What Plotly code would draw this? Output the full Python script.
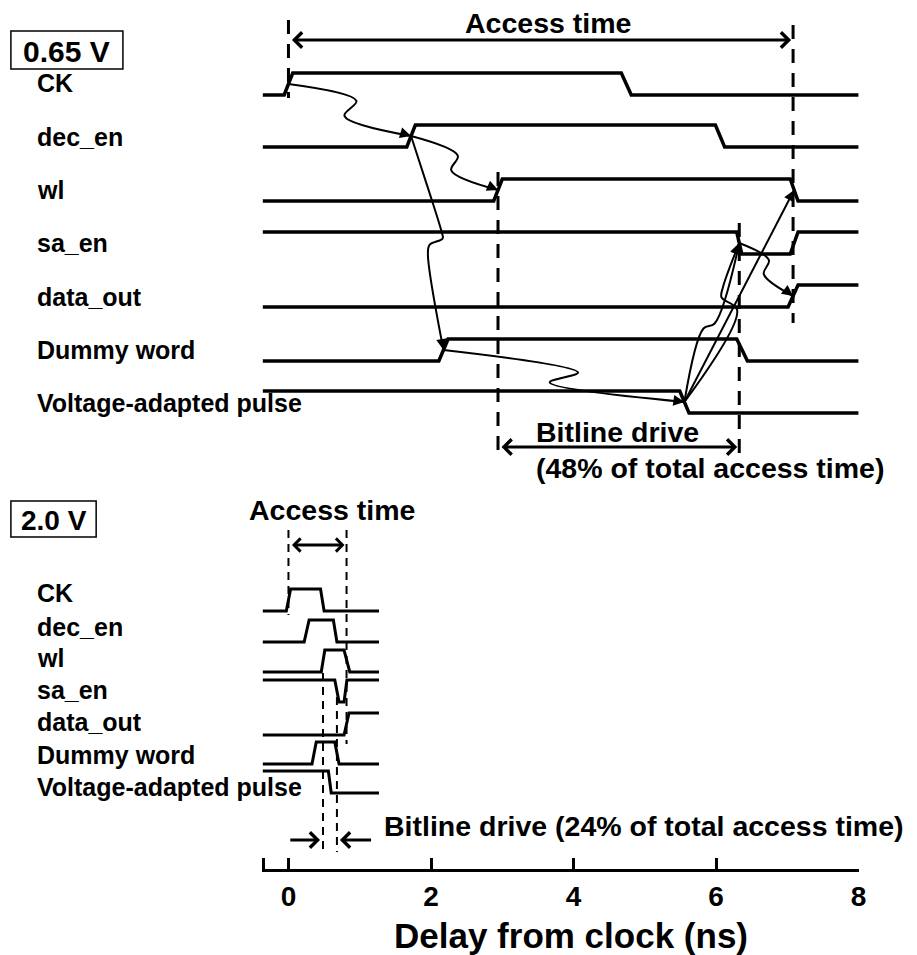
import math
import plotly.graph_objects as go

FONT = "Liberation Sans, Arial, sans-serif"
W, H = 917, 955

# ---------------------------------------------------------------
# Signal data (times in ns)
# ---------------------------------------------------------------
SIGNALS = ["CK", "dec_en", "wl", "sa_en", "data_out", "Dummy word",
           "Voltage-adapted pulse"]
IDLE_LEVEL = [0, 0, 0, 1, 0, 0, 1]          # level before the access

# 0.65 V supply: (start, end) of every transition
CK_065 = [(-0.06, 0.06), (4.67, 4.81)]
DEC_EN_065 = [(1.66, 1.78), (5.99, 6.12)]
WL_065 = [(2.88, 3.00), (7.04, 7.15)]
SA_EN_065 = [(6.29, 6.36), (7.04, 7.15)]
DATA_OUT_065 = [(7.01, 7.15)]
DUMMY_065 = [(2.11, 2.24), (6.29, 6.44)]
PULSE_065 = [(5.49, 5.62)]
END_065 = 8.0

# 2.0 V supply
CK_200 = [(-0.03, 0.03), (0.45, 0.50)]
DEC_EN_200 = [(0.22, 0.29), (0.63, 0.68)]
WL_200 = [(0.46, 0.51), (0.78, 0.86)]
SA_EN_200 = [(0.65, 0.71), (0.78, 0.82)]
DATA_OUT_200 = [(0.78, 0.85)]
DUMMY_200 = [(0.33, 0.39), (0.65, 0.71)]
PULSE_200 = [(0.56, 0.60)]
END_200 = 1.27

T_START = -0.36
AXIS_START = -0.355
TICKS = [0, 2, 4, 6, 8]

EDGES_065 = [CK_065, DEC_EN_065, WL_065, SA_EN_065, DATA_OUT_065, DUMMY_065, PULSE_065]
EDGES_200 = [CK_200, DEC_EN_200, WL_200, SA_EN_200, DATA_OUT_200, DUMMY_200, PULSE_200]

# ---------------------------------------------------------------
# Layout geometry (pixel rows, y grows downward)
# ---------------------------------------------------------------
PX0 = 291.0          # pixel column of t = 0
K = 71.9             # px per ns
T_MIN, T_MAX = -0.375, 8.0
X_LEFT_PX = PX0 + T_MIN * K
X_RIGHT_PX = PX0 + T_MAX * K
AXIS_Y = 870

BASE_065 = [95, 147, 201, 254, 307, 361, 413]      # low-level row of each trace
AMP_065 = 22
LABEL_Y_065 = [83, 137, 190, 243, 297, 350, 403]

BASE_200 = [611, 642, 672, 702, 735, 764, 793]
AMP_200 = 22
LABEL_Y_200 = [593, 627, 658, 690, 722, 755, 787]


def py(ypx):
    return 1 - ypx / H


def px(xpx):
    return xpx / W


def level_y(base, lvl, amp):
    return base - amp * lvl


def waveform(init, edges, t0, t1, base, amp):
    lvl = init
    xs, ys = [t0], [level_y(base, lvl, amp)]
    for a, b in edges:
        xs += [a, b]
        ys += [level_y(base, lvl, amp), level_y(base, 1 - lvl, amp)]
        lvl = 1 - lvl
    xs.append(t1)
    ys.append(level_y(base, lvl, amp))
    return xs, ys


def edge_mid(edges, i, base, amp):
    a, b = edges[i]
    return (a + b) / 2, base - amp / 2


fig = go.Figure()
shapes, annotations = [], []


def add_waves(edge_sets, bases, amp, t_end, width):
    for init, edges, base in zip(IDLE_LEVEL, edge_sets, bases):
        xs, ys = waveform(init, edges, T_START, t_end, base, amp)
        fig.add_trace(go.Scatter(x=xs, y=ys, mode="lines",
                                 line=dict(color="black", width=width),
                                 hoverinfo="skip"))


add_waves(EDGES_065, BASE_065, AMP_065, END_065, 3.5)
add_waves(EDGES_200, BASE_200, AMP_200, END_200, 3.0)


def label(text, xpx, ypx, size, anchor="left"):
    annotations.append(dict(text="<b>%s</b>" % text, x=px(xpx), y=py(ypx),
                            xref="paper", yref="paper", xanchor=anchor,
                            yanchor="middle", showarrow=False,
                            font=dict(family=FONT, size=size, color="black")))


for name, yl in zip(SIGNALS, LABEL_Y_065):
    label(name, 35, yl, 25)
for name, yl in zip(SIGNALS, LABEL_Y_200):
    label(name, 35, yl, 25)

# supply boxes
for text, (x0, y0, x1, y1), size in [("0.65 V", (11, 31, 124, 69), 30),
                                     ("2.0 V", (11, 501, 97, 537), 28)]:
    shapes.append(dict(type="rect", xref="paper", yref="paper",
                       x0=px(x0), x1=px(x1), y0=py(y0), y1=py(y1),
                       line=dict(color="black", width=1.5)))
    label(text, (x0 + x1) / 2, (y0 + y1) / 2 + 1, size, anchor="center")


def vdash(t, y0, y1, width, dash):
    shapes.append(dict(type="line", xref="x", yref="y", x0=t, x1=t, y0=y0, y1=y1,
                       line=dict(color="black", width=width, dash=dash)))


def double_arrow(t0, t1, ypx, width, size):
    annotations.append(dict(text="", x=t1, y=ypx, ax=t0, ay=ypx,
                            xref="x", yref="y", axref="x", ayref="y",
                            showarrow=True, arrowside="end+start",
                            arrowhead=4, startarrowhead=4,
                            arrowsize=size, startarrowsize=size,
                            arrowwidth=width, arrowcolor="black",
                            standoff=2, startstandoff=2))


def single_arrow(t_tail, t_tip, ypx, width, size):
    annotations.append(dict(text="", x=t_tip, y=ypx, ax=t_tail, ay=ypx,
                            xref="x", yref="y", axref="x", ayref="y",
                            showarrow=True, arrowhead=4, arrowsize=size,
                            arrowwidth=width, arrowcolor="black", standoff=3))


# ---------------- 0.65 V markers ----------------
ck_rise = edge_mid(CK_065, 0, BASE_065[0], AMP_065)[0]
wl_rise = edge_mid(WL_065, 0, BASE_065[2], AMP_065)[0]
sa_fall = edge_mid(SA_EN_065, 0, BASE_065[3], AMP_065)[0]
dout_rise = edge_mid(DATA_OUT_065, 0, BASE_065[4], AMP_065)[0]

vdash(ck_rise, 20, 98, 3, "14px,10px")
vdash(dout_rise, 25, 323, 3, "14px,10px")
vdash(wl_rise, 172, 458, 3, "14px,10px")
vdash(sa_fall, 223, 453, 3, "14px,10px")

double_arrow(ck_rise, dout_rise, 40, 3, 1.0)
double_arrow(wl_rise, sa_fall, 447, 3, 1.0)

label("Access time", 553, 23, 28.5, anchor="center")
label("Bitline drive", 539, 432, 28.5)
label("(48% of total access time)", 539, 468, 28.5)


# causal arrows between edges (built in pixel space, then mapped to ns)
def to_px(pt):
    return (pt[0] * K, pt[1])


def to_data(p):
    return (p[0] / K, p[1])


def causal(src, dst, kinks):
    p0, p1 = to_px(src), to_px(dst)
    dx, dy = p1[0] - p0[0], p1[1] - p0[1]
    L = math.hypot(dx, dy)
    nx, ny = dy / L, -dx / L
    pts = [p0]
    for s, o in kinks:
        pts.append((p0[0] + s * dx + o * nx, p0[1] + s * dy + o * ny))
    pts.append(p1)
    data = [to_data(p) for p in pts]
    fig.add_trace(go.Scatter(x=[d[0] for d in data], y=[d[1] for d in data],
                             mode="lines", hoverinfo="skip",
                             line=dict(color="black", width=2,
                                       shape="spline" if kinks else "linear")))
    # arrow head on the final approach
    q = pts[-2]
    ux, uy = p1[0] - q[0], p1[1] - q[1]
    ul = math.hypot(ux, uy)
    tail = (p1[0] - 9 * ux / ul, p1[1] - 9 * uy / ul)
    annotations.append(dict(text="", x=dst[0], y=dst[1],
                            ax=tail[0] / K, ay=tail[1],
                            xref="x", yref="y", axref="x", ayref="y",
                            showarrow=True, arrowhead=2, arrowsize=1.1,
                            arrowwidth=2, arrowcolor="black"))


def m(edges, i, row):
    return edge_mid(edges, i, BASE_065[row], AMP_065)


causal(m(CK_065, 0, 0), m(DEC_EN_065, 0, 1), [(0.52, 11), (0.48, -7.5)])
causal(m(DEC_EN_065, 0, 1), m(WL_065, 0, 2), [(0.49, 8), (0.51, -8)])
causal(m(DEC_EN_065, 0, 1), m(DUMMY_065, 0, 5),
       [(0.25, 9), (0.46, 16), (0.49, 16), (0.51, 2), (0.55, -1)])
causal(m(DUMMY_065, 0, 5), m(PULSE_065, 0, 6), [(0.553, 6.4), (0.449, -9.3)])
causal(m(PULSE_065, 0, 6), m(SA_EN_065, 0, 3), [(0.45, 6), (0.5, -3)])
causal(m(PULSE_065, 0, 6), m(SA_EN_065, 0, 3), [(0.62, -20), (0.66, -1), (0.72, 1)])
causal(m(PULSE_065, 0, 6), m(WL_065, 1, 2), [])
causal(m(SA_EN_065, 0, 3), m(DATA_OUT_065, 0, 4), [(0.44, 8.6), (0.52, -5)])

# ---------------- 2.0 V markers ----------------
ck_rise2 = edge_mid(CK_200, 0, BASE_200[0], AMP_200)[0]
wl_rise2 = edge_mid(WL_200, 0, BASE_200[2], AMP_200)[0]
sa_fall2 = edge_mid(SA_EN_200, 0, BASE_200[3], AMP_200)[0]
dout_rise2 = edge_mid(DATA_OUT_200, 0, BASE_200[4], AMP_200)[0]

vdash(ck_rise2, 530, 615, 2, "8px,6px")
vdash(dout_rise2, 530, 744, 2, "8px,6px")
vdash(wl_rise2, 673, 852, 2, "8px,6px")
vdash(sa_fall2, 697, 852, 2, "8px,6px")

double_arrow(ck_rise2, dout_rise2, 545, 3, 0.85)
single_arrow(wl_rise2 - 0.48, wl_rise2, 840, 3, 1.0)
single_arrow(sa_fall2 + 0.50, sa_fall2, 840, 3, 1.0)

label("Access time", 335, 510, 28.5, anchor="center")
label("Bitline drive (24% of total access time)", 385, 826, 28.5)

# axis title
label("Delay from clock (ns)", 576, 935, 35, anchor="center")

fig.update_layout(
    width=W, height=H, margin=dict(l=0, r=0, t=0, b=0),
    paper_bgcolor="white", plot_bgcolor="white", showlegend=False,
    shapes=shapes, annotations=annotations,
    xaxis=dict(domain=[px(X_LEFT_PX), px(X_RIGHT_PX)], range=[T_MIN, T_MAX],
               anchor="free", position=py(AXIS_Y),
               showline=True, linecolor="black", linewidth=3,
               ticks="inside", ticklen=11, tickwidth=3, tickcolor="black",
               tickvals=[AXIS_START] + TICKS,
               ticktext=[""] + ["<b>%d</b>" % t for t in TICKS],
               tickfont=dict(family=FONT, size=28, color="black"),
               ticklabelstandoff=0,
               showgrid=False, zeroline=False, fixedrange=True),
    yaxis=dict(domain=[0, 1], range=[H, 0], visible=False, fixedrange=True),
)

fig.write_html("out.html")
